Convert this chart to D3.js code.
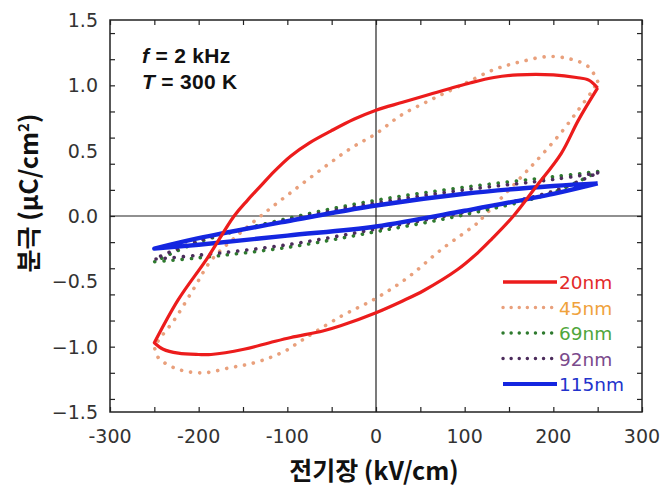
<html>
<head>
  <meta charset="utf-8">
  <title>P-E loops</title>
  <script src="https://d3js.org/d3.v7.min.js"></script>
</head>
<style type="text/css">
body { margin: 0; background: #fff; }
.tick-label { font: 19px "DejaVu Sans", sans-serif; fill: #333; }
.axis-title { font-family: "Noto Sans CJK KR", "Liberation Sans", sans-serif; font-weight: bold; font-size: 25px; fill: #111; }
.note { font: bold 21px "Liberation Sans", Arial, sans-serif; fill: #111; letter-spacing: 0.3px; }
.legend { font: 18.5px "DejaVu Sans", sans-serif; }
</style>
<body>
<script>

// field (kV/cm), polarization (uC/cm2)
var series = ["20nm", "45nm", "69nm", "92nm", "115nm"];
var colors = ["#ec1c1c", "#e9a07c", "#2e7a2e", "#4c2c5c", "#1426e0"];
var textColors = ["#e32a2a", "#f0a23c", "#4fa63c", "#7a4a8c", "#2233cc"];
var dotted = [false, true, true, true, false];

var upper20 = [[250,0.98],[240,1.04],[226,1.06],[200,1.08],[160,1.08],[133,1.06],[107,1.02],[60,0.93],[30,0.87],[0,0.81],[-25,0.74],[-51,0.65],[-75,0.56],[-96,0.46],[-115,0.34],[-130,0.23],[-145,0.12],[-160,0.0],[-190,-0.32],[-223,-0.64],[-250,-0.97]];
var lower20 = [[-250,-0.97],[-240,-1.02],[-223,-1.05],[-200,-1.06],[-186,-1.06],[-149,-1.02],[-120,-0.97],[-96,-0.93],[-60,-0.88],[-40,-0.84],[0,-0.74],[30,-0.65],[54,-0.57],[92,-0.41],[115,-0.28],[130,-0.18],[155,0.0],[180,0.22],[209,0.48],[228,0.73],[250,0.98]];

var upper45 = [[250,1.03],[240,1.14],[220,1.2],[194,1.22],[163,1.18],[133,1.12],[96,1.0],[62,0.89],[28,0.77],[0,0.63],[-28,0.52],[-59,0.37],[-96,0.18],[-130,0.0],[-160,-0.17],[-186,-0.34],[-205,-0.55],[-228,-0.8],[-243,-0.93],[-250,-1.0]];
var lower45 = [[-250,-1.0],[-246,-1.08],[-237,-1.13],[-220,-1.18],[-194,-1.2],[-164,-1.16],[-141,-1.13],[-118,-1.08],[-99,-1.02],[-88,-0.97],[-40,-0.77],[0,-0.63],[36,-0.47],[73,-0.26],[115,-0.05],[122,0.0],[164,0.3],[186,0.46],[209,0.64],[228,0.81],[243,0.95],[250,1.03]];

var upper69 = [[250,0.34],[200,0.3],[100,0.22],[0,0.12],[-100,-0.02],[-200,-0.2],[-250,-0.35]];
var lower69 = [[-250,-0.35],[-200,-0.32],[-100,-0.24],[0,-0.12],[100,0.01],[200,0.18],[250,0.34]];

var upper92 = [[250,0.33],[200,0.28],[100,0.2],[0,0.1],[-100,-0.03],[-200,-0.19],[-250,-0.33]];
var lower92 = [[-250,-0.33],[-200,-0.3],[-100,-0.22],[0,-0.1],[100,0.03],[200,0.19],[250,0.33]];

var upper115 = [[250,0.25],[200,0.23],[100,0.17],[0,0.08],[-100,-0.04],[-200,-0.17],[-250,-0.25]];
var lower115 = [[-250,-0.25],[-200,-0.22],[-100,-0.15],[0,-0.08],[100,0.04],[200,0.17],[250,0.25]];

var loops = [upper20.concat(lower20), upper45.concat(lower45), upper69.concat(lower69),
             upper92.concat(lower92), upper115.concat(lower115)];

var xTicks = [-300, -200, -100, 0, 100, 200, 300];
var yTicks = [-1.5, -1.0, -0.5, 0.0, 0.5, 1.0, 1.5];

var width = 662,
    height = 496,
    margin = {top: 20, right: 20, bottom: 84, left: 110};

var svg = d3.select('body')
  .append('svg')
  .attr('width', width)
  .attr('height', height);

var x = d3.scaleLinear().domain([-300, 300]).range([margin.left, width - margin.right]);
var y = d3.scaleLinear().domain([-1.5, 1.5]).range([height - margin.bottom, margin.top]);

var line = d3.line()
  .x(function(d) { return x(d[0]); })
  .y(function(d) { return y(d[1]); })
  .curve(d3.curveCatmullRom);

// zero lines
svg.append('line')
  .attr('x1', x(-300)).attr('x2', x(300))
  .attr('y1', y(0)).attr('y2', y(0))
  .attr('stroke', '#222').attr('stroke-width', 1.2);
svg.append('line')
  .attr('x1', x(0)).attr('x2', x(0))
  .attr('y1', y(-1.5)).attr('y2', y(1.5))
  .attr('stroke', '#222').attr('stroke-width', 1.2);

// loops, thickest last
var order = [1, 2, 3, 4, 0];
order.forEach(function(i) {
  var p = svg.append('path')
    .datum(loops[i])
    .attr('d', line)
    .attr('fill', 'none')
    .attr('stroke', colors[i]);
  if (dotted[i]) {
    p.attr('stroke-width', 3.6)
     .attr('stroke-linecap', 'round')
     .attr('stroke-dasharray', '0.1 9');
  } else {
    p.attr('stroke-width', i == 4 ? 4.4 : 3.2)
     .attr('stroke-linejoin', 'round');
  }
});

// frame
svg.append('rect')
  .attr('x', x(-300)).attr('y', y(1.5))
  .attr('width', x(300) - x(-300))
  .attr('height', y(-1.5) - y(1.5))
  .attr('fill', 'none')
  .attr('stroke', '#222')
  .attr('stroke-width', 1.5);

// inward ticks on all four sides
var g = svg.append('g');
g.append('g')
  .attr('transform', 'translate(0,' + y(-1.5) + ')')
  .call(d3.axisBottom(x).ticks(12).tickSize(-5).tickFormat(''));
g.append('g')
  .attr('transform', 'translate(0,' + y(1.5) + ')')
  .call(d3.axisTop(x).ticks(12).tickSize(-5).tickFormat(''));
g.append('g')
  .attr('transform', 'translate(' + x(-300) + ',0)')
  .call(d3.axisLeft(y).ticks(12).tickSize(-5).tickFormat(''));
g.append('g')
  .attr('transform', 'translate(' + x(300) + ',0)')
  .call(d3.axisRight(y).ticks(12).tickSize(-5).tickFormat(''));
g.selectAll('.domain').remove();
g.selectAll('.tick line').attr('stroke', '#222').attr('stroke-width', 1.2);

// tick labels
svg.selectAll('.xlab')
  .data(xTicks)
  .enter().append('text')
  .attr('class', 'tick-label')
  .attr('x', function(d) { return x(d); })
  .attr('y', 443)
  .attr('text-anchor', 'middle')
  .text(function(d) { return d; });

svg.selectAll('.ylab')
  .data(yTicks)
  .enter().append('text')
  .attr('class', 'tick-label')
  .attr('x', 98)
  .attr('y', function(d) { return y(d) + 7; })
  .attr('text-anchor', 'end')
  .text(function(d) { return d3.format('.1f')(d); });

// axis titles
svg.append('text')
  .attr('class', 'axis-title')
  .attr('x', x(0) - 2)
  .attr('y', 480)
  .attr('font-size', 26)
  .attr('text-anchor', 'middle')
  .text('전기장 (kV/cm)');

var yt = svg.append('text')
  .attr('class', 'axis-title')
  .attr('transform', 'translate(38,193) rotate(-90)')
  .attr('text-anchor', 'middle');
yt.append('tspan').text('분극 (μC/cm');
yt.append('tspan').attr('dy', -9).attr('font-size', 15).text('2');
yt.append('tspan').attr('dy', 9).text(')');

// notes
var n1 = svg.append('text').attr('class', 'note').attr('x', 142).attr('y', 63);
n1.append('tspan').attr('font-style', 'italic').text('f');
n1.append('tspan').text(' = 2 kHz');
var n2 = svg.append('text').attr('class', 'note').attr('x', 142).attr('y', 89);
n2.append('tspan').attr('font-style', 'italic').text('T');
n2.append('tspan').text(' = 300 K');

// legend
var lg = svg.selectAll('.lg')
  .data(series)
  .enter().append('g')
  .attr('transform', function(d, i) { return 'translate(503,' + (282 + i * 25.5) + ')'; });

lg.append('line')
  .attr('x1', 0).attr('x2', 54)
  .attr('stroke', function(d, i) { return colors[i]; })
  .attr('stroke-width', function(d, i) { return i == 4 ? 4 : 3.4; })
  .attr('stroke-linecap', function(d, i) { return dotted[i] ? 'round' : 'butt'; })
  .attr('stroke-dasharray', function(d, i) { return dotted[i] ? '0.1 8' : null; });

lg.append('text')
  .attr('class', 'legend')
  .attr('x', 56)
  .attr('y', 7)
  .attr('fill', function(d, i) { return textColors[i]; })
  .text(function(d) { return d; });

</script>
</body>
</html>
